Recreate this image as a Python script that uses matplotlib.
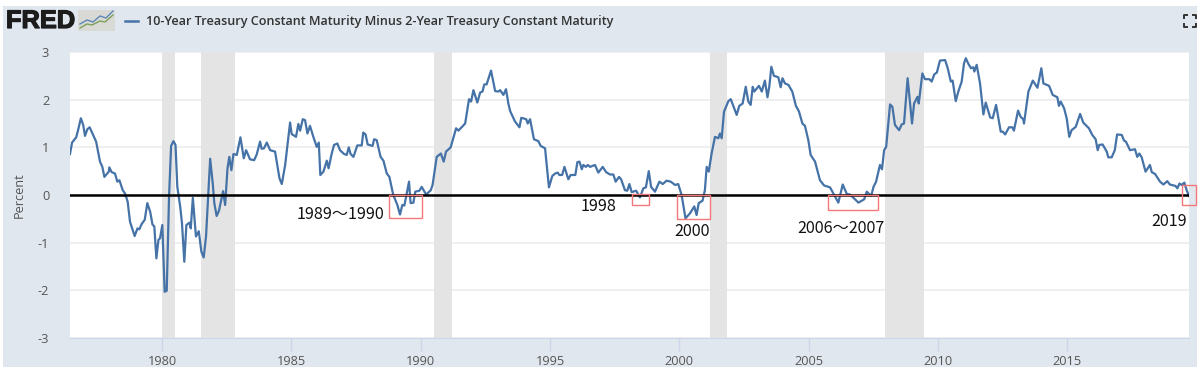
import matplotlib
matplotlib.use('Agg')
import matplotlib.pyplot as plt
import matplotlib.patheffects as pe
from matplotlib.patches import Rectangle

# spread (decimal year, percent)
years = [1976.44, 1976.52, 1976.68, 1976.77, 1976.86, 1976.95, 1977.02, 1977.11, 1977.20, 1977.31, 1977.45, 1977.60,
         1977.69, 1977.77, 1977.94, 1977.96, 1978.05, 1978.18, 1978.27, 1978.35, 1978.48, 1978.57, 1978.67, 1978.76,
         1978.94, 1979.05, 1979.12, 1979.21, 1979.33, 1979.43, 1979.54, 1979.63, 1979.70, 1979.78, 1979.86, 1979.92,
         1980.01, 1980.10, 1980.18, 1980.27, 1980.35, 1980.44, 1980.52, 1980.59, 1980.70, 1980.77, 1980.86, 1980.94,
         1981.06, 1981.11, 1981.19, 1981.31, 1981.42, 1981.52, 1981.61, 1981.70, 1981.86, 1981.96, 1982.02, 1982.11,
         1982.20, 1982.36, 1982.44, 1982.53, 1982.60, 1982.68, 1982.76, 1982.89, 1983.03, 1983.16, 1983.25, 1983.40,
         1983.56, 1983.66, 1983.79, 1983.85, 1983.94, 1984.05, 1984.18, 1984.37, 1984.54, 1984.63, 1984.76, 1984.95,
         1985.01, 1985.18, 1985.27, 1985.34, 1985.44, 1985.53, 1985.62, 1985.72, 1985.85, 1985.98, 1986.06, 1986.12,
         1986.24, 1986.37, 1986.44, 1986.56, 1986.65, 1986.78, 1986.88, 1987.04, 1987.14, 1987.22, 1987.29, 1987.40,
         1987.55, 1987.72, 1987.78, 1987.87, 1987.95, 1988.14, 1988.20, 1988.30, 1988.45, 1988.56, 1988.69, 1988.79,
         1988.94, 1989.10, 1989.20, 1989.29, 1989.37, 1989.55, 1989.61, 1989.72, 1989.79, 1989.95, 1990.04, 1990.21,
         1990.39, 1990.46, 1990.62, 1990.78, 1990.89, 1990.98, 1991.16, 1991.37, 1991.46, 1991.72, 1991.87, 1991.95,
         1992.04, 1992.19, 1992.30, 1992.39, 1992.46, 1992.55, 1992.72, 1992.88, 1993.01, 1993.07, 1993.20, 1993.30,
         1993.39, 1993.46, 1993.65, 1993.82, 1993.89, 1994.08, 1994.14, 1994.23, 1994.38, 1994.55, 1994.64, 1994.81,
         1994.96, 1995.09, 1995.20, 1995.30, 1995.36, 1995.47, 1995.56, 1995.71, 1995.80, 1995.98, 1996.06, 1996.14,
         1996.23, 1996.29, 1996.39, 1996.46, 1996.55, 1996.74, 1996.87, 1997.04, 1997.17, 1997.32, 1997.45, 1997.54,
         1997.67, 1997.75, 1997.90, 1997.99, 1998.07, 1998.16, 1998.33, 1998.48, 1998.61, 1998.71, 1998.82, 1998.91,
         1999.06, 1999.23, 1999.36, 1999.51, 1999.67, 1999.84, 1999.96, 2000.09, 2000.24, 2000.42, 2000.58, 2000.67,
         2000.75, 2000.90, 2000.99, 2001.06, 2001.14, 2001.25, 2001.38, 2001.51, 2001.57, 2001.64, 2001.73, 2001.90,
         2001.99, 2002.22, 2002.32, 2002.45, 2002.57, 2002.67, 2002.76, 2002.84, 2002.90, 2003.08, 2003.19, 2003.31,
         2003.41, 2003.48, 2003.56, 2003.66, 2003.83, 2003.92, 2003.99, 2004.09, 2004.22, 2004.37, 2004.51, 2004.63,
         2004.76, 2004.86, 2004.99, 2005.08, 2005.25, 2005.44, 2005.60, 2005.83, 2005.99, 2006.15, 2006.32, 2006.48,
         2006.60, 2006.93, 2007.15, 2007.25, 2007.42, 2007.51, 2007.61, 2007.76, 2007.84, 2007.92, 2008.00, 2008.15,
         2008.24, 2008.34, 2008.50, 2008.60, 2008.69, 2008.83, 2009.00, 2009.08, 2009.21, 2009.26, 2009.40, 2009.50,
         2009.67, 2009.76, 2009.86, 2009.96, 2010.08, 2010.28, 2010.38, 2010.50, 2010.57, 2010.69, 2010.79, 2010.92,
         2011.01, 2011.08, 2011.18, 2011.28, 2011.37, 2011.41, 2011.50, 2011.63, 2011.76, 2011.85, 2012.02, 2012.12,
         2012.25, 2012.43, 2012.51, 2012.60, 2012.75, 2012.88, 2012.94, 2013.10, 2013.20, 2013.30, 2013.33, 2013.50,
         2013.67, 2013.85, 2014.00, 2014.08, 2014.30, 2014.44, 2014.62, 2014.68, 2014.75, 2014.88, 2014.98, 2015.08,
         2015.17, 2015.33, 2015.50, 2015.62, 2015.84, 2015.97, 2016.10, 2016.18, 2016.24, 2016.37, 2016.53, 2016.59,
         2016.72, 2016.84, 2016.93, 2017.11, 2017.20, 2017.27, 2017.43, 2017.62, 2017.71, 2017.79, 2017.88, 2018.03,
         2018.20, 2018.27, 2018.40, 2018.59, 2018.72, 2018.87, 2018.97, 2019.19, 2019.26, 2019.34, 2019.43, 2019.53,
         2019.62, 2019.71]
spread = [0.86, 1.10, 1.21, 1.40, 1.61, 1.47, 1.24, 1.38, 1.42, 1.29, 1.12, 0.70,
          0.59, 0.38, 0.49, 0.58, 0.48, 0.45, 0.28, 0.31, 0.10, 0.03, -0.14, -0.56,
          -0.86, -0.70, -0.72, -0.61, -0.52, -0.17, -0.35, -0.62, -0.66, -1.33, -0.94, -0.91,
          -0.63, -2.03, -2.01, -0.03, 1.03, 1.13, 1.05, 0.17, -0.24, -0.59, -1.40, -0.63,
          -0.58, -0.70, -0.06, -0.87, -0.76, -1.19, -1.31, -0.87, 0.76, 0.24, -0.17, -0.44,
          -0.33, 0.08, -0.21, 0.56, 0.80, 0.52, 0.86, 0.84, 1.21, 0.77, 0.94, 0.75,
          0.73, 0.85, 1.12, 0.97, 0.98, 1.10, 0.94, 0.91, 0.35, 0.23, 0.63, 1.52,
          1.28, 1.22, 1.49, 1.35, 1.59, 1.57, 1.29, 1.45, 1.22, 1.01, 1.10, 0.42,
          0.49, 0.72, 0.56, 0.87, 1.05, 1.08, 0.94, 0.86, 0.84, 1.00, 0.86, 0.80,
          1.04, 1.04, 1.31, 1.27, 1.06, 1.03, 1.17, 1.15, 0.80, 0.72, 0.45, 0.38,
          0.00, -0.21, -0.41, -0.21, -0.22, 0.28, -0.17, -0.16, 0.07, 0.09, 0.17, 0.01,
          0.10, 0.21, 0.80, 0.87, 0.70, 0.91, 1.00, 1.40, 1.35, 1.50, 2.01, 1.96,
          2.20, 1.94, 2.15, 2.17, 2.32, 2.32, 2.61, 2.18, 2.17, 2.20, 2.10, 2.22,
          1.92, 1.76, 1.54, 1.42, 1.62, 1.59, 1.50, 1.59, 1.17, 1.13, 1.03, 0.98,
          0.16, 0.40, 0.45, 0.47, 0.42, 0.42, 0.59, 0.33, 0.42, 0.42, 0.69, 0.70,
          0.54, 0.63, 0.59, 0.63, 0.59, 0.63, 0.47, 0.59, 0.48, 0.43, 0.43, 0.28,
          0.38, 0.33, 0.10, 0.09, 0.23, 0.06, 0.09, -0.05, 0.14, 0.16, 0.50, 0.17,
          0.07, 0.28, 0.23, 0.30, 0.28, 0.21, 0.23, 0.00, -0.49, -0.38, -0.24, -0.42,
          -0.17, -0.12, 0.10, 0.59, 0.49, 0.87, 1.22, 1.19, 1.29, 1.19, 1.75, 1.97,
          2.01, 1.68, 1.87, 1.92, 2.27, 1.96, 1.89, 2.27, 2.17, 2.29, 2.17, 2.40,
          2.05, 2.27, 2.69, 2.50, 2.47, 2.26, 2.45, 2.34, 2.31, 2.17, 1.87, 1.75,
          1.50, 1.45, 1.15, 0.84, 0.70, 0.31, 0.20, 0.16, 0.00, -0.16, 0.22, 0.02,
          0.01, -0.16, -0.09, 0.07, -0.02, 0.17, 0.28, 0.63, 0.54, 0.94, 1.01, 1.90,
          1.85, 1.47, 1.36, 1.48, 1.50, 2.45, 1.50, 1.92, 2.06, 1.92, 2.55, 2.43,
          2.43, 2.38, 2.53, 2.57, 2.82, 2.83, 2.66, 2.38, 2.40, 1.97, 2.17, 2.38,
          2.76, 2.87, 2.75, 2.66, 2.68, 2.59, 2.73, 2.34, 1.69, 1.94, 1.63, 1.61,
          1.89, 1.33, 1.33, 1.27, 1.42, 1.42, 1.35, 1.77, 1.64, 1.59, 1.50, 2.17,
          2.40, 2.25, 2.66, 2.34, 2.29, 2.10, 2.05, 1.87, 1.96, 1.82, 1.61, 1.22,
          1.36, 1.43, 1.70, 1.52, 1.40, 1.26, 1.17, 0.94, 1.05, 1.06, 0.91, 0.79,
          0.79, 0.94, 1.27, 1.26, 1.14, 1.12, 0.94, 0.96, 0.80, 0.87, 0.79, 0.49,
          0.63, 0.48, 0.44, 0.28, 0.22, 0.29, 0.22, 0.19, 0.14, 0.24, 0.21, 0.26,
          0.10, -0.02]

recessions = [(1980.0, 1980.5), (1981.5, 1982.83), (1990.53, 1991.2), (2001.17, 2001.83), (2007.96, 2009.46)]
x_ticks = [1980, 1985, 1990, 1995, 2000, 2005, 2010, 2015]
y_ticks = [-3, -2, -1, 0, 1, 2, 3]

# red boxes drawn by hand on the screenshot: year from, year to, top, bottom
boxes = [(1988.76, 1990.05, 0.0, -0.49), (1998.19, 1998.84, 0.03, -0.21), (1999.92, 2001.17, 0.0, -0.50),
         (2005.77, 2007.67, 0.01, -0.31), (2019.45, 2019.97, 0.20, -0.21)]
notes = ['1989～1990', '1998', '2000', '2006～2007', '2019']
note_x = [1988.58, 1997.56, 2000.48, 2006.26, 2019.63]
note_y = [-0.41, -0.24, -0.76, -0.70, -0.55]
note_ha = ['right', 'right', 'center', 'center', 'right']

W, H = 1200, 370
PANEL = '#e0e7ef'
LINE = '#4572a7'
TICK = '#555555'


def fx(px):
    return px / W


def fy(px):
    return 1 - px / H


fig = plt.figure(figsize=(12, 3.7), dpi=100, facecolor='white')
fig.patches.append(Rectangle((fx(3), fy(367)), fx(1194), 361 / H, transform=fig.transFigure, fc=PANEL, ec='none',
                             zorder=-2))

ax = fig.add_axes([fx(70), fy(338), fx(1119), 286 / H])
ax.set_xlim(1976.44, 2019.71)
ax.set_ylim(-3, 3)
ax.set_facecolor('white')

for a, b in recessions:
    ax.axvspan(a, b, color='#e4e4e4', lw=0, zorder=1)
ax.grid(axis='y', color='#eeeeee', lw=1.3, zorder=0)
ax.set_axisbelow(True)
ax.plot(years, spread, color=LINE, lw=1.6, solid_joinstyle='round', zorder=3)
ax.axhline(0, color='black', lw=1.8, zorder=4)

for a, b, top, bottom in boxes:
    ax.add_patch(Rectangle((a, bottom), b - a, top - bottom, fc='none', ec='#f4777a', lw=1.0,
                           clip_on=False, zorder=5))
for s, x, y, ha in zip(notes, note_x, note_y, note_ha):
    ax.text(x, y, s, ha=ha, va='center', fontsize=11.6, color='#111111', zorder=6,
            family=['Noto Sans CJK JP', 'DejaVu Sans'])

for s in ['top', 'left', 'right']:
    ax.spines[s].set_visible(False)
ax.spines['bottom'].set_color('#ccd6eb')
ax.set_xticks(x_ticks)
ax.set_yticks(y_ticks)
ax.tick_params(axis='x', length=9, width=1, color='#ccd6eb', labelcolor=TICK, labelsize=9.2, pad=3)
ax.tick_params(axis='y', length=0, labelcolor=TICK, labelsize=9.2, pad=15)
ax.set_yticklabels(['-3', '-2', '-1', '0', '1', '2', '3'])
for t in ax.get_xticklabels() + ax.get_yticklabels():
    t.set_family('Open Sans')
fig.text(fx(19), fy(195), 'Percent', rotation=90, ha='center', va='center', fontsize=9.2,
         color=TICK, family='Open Sans')

# header
fig.text(fx(6), fy(21), 'FRED', fontsize=18.3, fontweight='bold', family='Liberation Sans', color='#1c1c1c',
         ha='left', va='center', path_effects=[pe.withStroke(linewidth=0.9, foreground='#1c1c1c')])
fig.patches.append(Rectangle((fx(78), fy(31)), fx(37), 21 / H, transform=fig.transFigure, fc='#d9d9d6', ec='none',
                             zorder=-1))
fig.add_artist(plt.Line2D([fx(v) for v in [80, 87, 92, 100, 105, 113]], [fy(v) for v in [28, 24, 25, 21, 22, 15]],
                          color='#7da05a', lw=1))
fig.add_artist(plt.Line2D([fx(v) for v in [80, 87, 93, 100, 106, 113]], [fy(v) for v in [24, 20, 22, 16, 18, 11]],
                          color='#5b87b5', lw=1))
fig.add_artist(plt.Line2D([fx(125), fx(138)], [fy(20.5), fy(20.5)], color=LINE, lw=1.8))
fig.text(fx(146), fy(21), '10-Year Treasury Constant Maturity Minus 2-Year Treasury Constant Maturity',
         fontsize=9.05, fontweight='semibold', family='Open Sans', color='#333333', ha='left', va='center')

# full screen icon
for cx, sx in [(1184, 1), (1196, -1)]:
    for cy, sy in [(15, 1), (27, -1)]:
        fig.add_artist(plt.Line2D([fx(cx + 3 * sx), fx(cx), fx(cx)], [fy(cy), fy(cy), fy(cy + 3 * sy)],
                                  color='#333333', lw=1.4))

fig.savefig('out.png', dpi=100, facecolor='white')
